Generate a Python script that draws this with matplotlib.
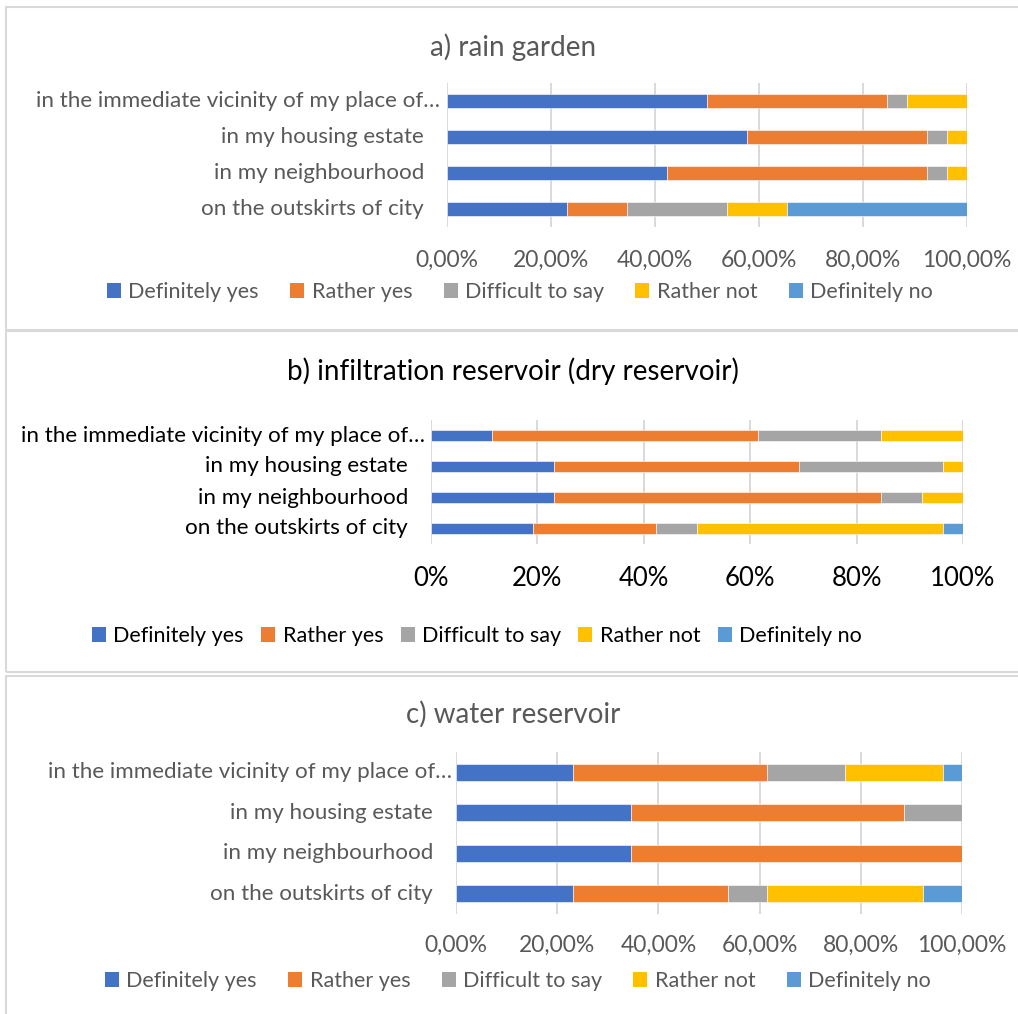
import matplotlib
matplotlib.use("Agg")
import matplotlib.pyplot as plt
from matplotlib.patches import Patch, Rectangle
from matplotlib.ticker import FuncFormatter
from matplotlib.transforms import offset_copy

plt.rcParams['font.family'] = ['Lato', 'DejaVu Sans']

# survey answers, share of respondents (%)
places = ['in the immediate vicinity of my place of\u2026',
          'in my housing estate',
          'in my neighbourhood',
          'on the outskirts of city']
answers = ['Definitely yes', 'Rather yes', 'Difficult to say', 'Rather not', 'Definitely no']
colors = ['#4472C4', '#ED7D31', '#A5A5A5', '#FFC000', '#5B9BD5']

# rows follow `places`, columns follow `answers`
rain_garden = [[50.00, 34.62, 3.85, 11.54, 0.00],
               [57.69, 34.62, 3.85, 3.85, 0.00],
               [42.31, 50.00, 3.85, 3.85, 0.00],
               [23.08, 11.54, 19.23, 11.54, 34.62]]
infiltration = [[11.54, 50.00, 23.08, 15.38, 0.00],
                [23.08, 46.15, 26.92, 3.85, 0.00],
                [23.08, 61.54, 7.69, 7.69, 0.00],
                [19.23, 23.08, 7.69, 46.15, 3.85]]
water_res = [[23.08, 38.46, 15.38, 19.23, 3.85],
             [34.62, 53.85, 11.54, 0.00, 0.00],
             [34.62, 65.38, 0.00, 0.00, 0.00],
             [23.08, 30.77, 7.69, 30.77, 7.69]]

W, H = 1018, 1014
fig = plt.figure(figsize=(W / 100, H / 100), dpi=100)

# layout in pixels: axes box, title y, legend centre, fonts, colours
panels = [
    dict(title='a) rain garden', data=rain_garden, box=(447, 83, 967, 227),
         ty=47, leg=(520, 292), colsp=1.45, fmt='{:.2f}%', tick_fs=16.5, pad=16.5,
         long_off=7, txt='#595959', bh=0.40, frame=(6, 7, 330)),
    dict(title='b) infiltration reservoir (dry reservoir)', data=infiltration,
         box=(431, 420, 963, 544), ty=371, leg=(477, 636), colsp=0.8, fmt='{:.0f}%',
         tick_fs=18.5, pad=16, long_off=6, txt='#000000', bh=0.38, frame=(6, 331, 672)),
    dict(title='c) water reservoir', data=water_res, box=(456, 752, 962, 914),
         ty=714, leg=(518, 981), colsp=1.45, fmt='{:.2f}%', tick_fs=16.5, pad=15,
         long_off=4, txt='#595959', bh=0.41, frame=(6, 676, 1030)),
]

for p in panels:
    x0, y0, x1, y1 = p['box']
    ax = fig.add_axes([x0 / W, 1 - y1 / H, (x1 - x0) / W, (y1 - y0) / H])
    ypos = list(range(len(places)))[::-1]
    left = [0.0] * len(places)
    for j, ans in enumerate(answers):
        vals = [row[j] for row in p['data']]
        ax.barh(ypos, vals, left=left, height=p['bh'], color=colors[j],
                edgecolor='white', linewidth=0.4, zorder=3)
        left = [a + b for a, b in zip(left, vals)]
    ax.set_xlim(0, 100)
    ax.set_ylim(-0.5, len(places) - 0.5)
    ax.set_xticks([0, 20, 40, 60, 80, 100])
    fmt = p['fmt']
    ax.xaxis.set_major_formatter(FuncFormatter(lambda v, _, f=fmt: f.format(v).replace('.', ',')))
    ax.tick_params(axis='x', length=0, pad=p['pad'], labelsize=p['tick_fs'], labelcolor=p['txt'])
    ax.set_yticks([])
    ax.grid(axis='x', color='#D9D9D9', linewidth=1.4, zorder=0)
    for s in ax.spines.values():
        s.set_visible(False)

    # category labels, the truncated one sits closer to the axis
    for i, name in enumerate(places):
        off = p['long_off'] if i == 0 else 23
        tr = offset_copy(ax.get_yaxis_transform(), fig=fig, x=-off, y=0, units='dots')
        ax.text(0, ypos[i], name, transform=tr, ha='right', va='center',
                fontsize=16.1, color=p['txt'])

    fig.text(513 / W, 1 - p['ty'] / H, p['title'], ha='center', va='center',
             fontsize=20, color=p['txt'])

    handles = [Patch(facecolor=c, edgecolor='none') for c in colors]
    fig.legend(handles, answers, loc='center',
               bbox_to_anchor=(p['leg'][0] / W, 1 - p['leg'][1] / H),
               ncol=5, frameon=False, fontsize=15.5, labelcolor=p['txt'],
               handlelength=0.65, handleheight=0.65, handletextpad=0.35,
               columnspacing=p['colsp'], borderaxespad=0)

    fx, fy0, fy1 = p['frame']
    fig.add_artist(Rectangle((fx / W, 1 - fy1 / H), 1.05, (fy1 - fy0) / H,
                             transform=fig.transFigure, fill=False,
                             edgecolor='#D9D9D9', linewidth=1.5))

fig.savefig('out.png', dpi=100, facecolor='white')
